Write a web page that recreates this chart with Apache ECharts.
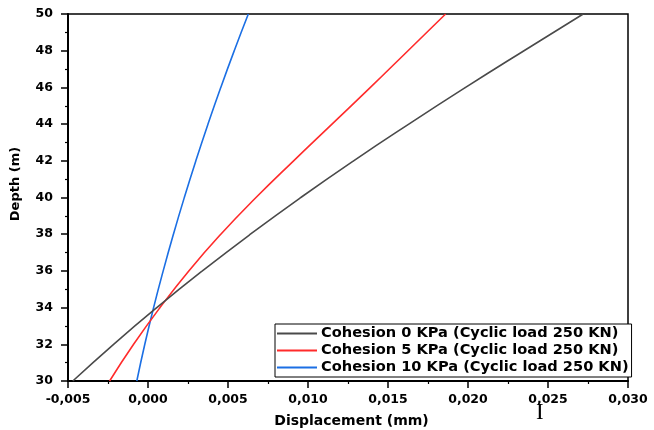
<!DOCTYPE html>
<html>
<head>
<meta charset="utf-8">
<script src="https://cdn.jsdelivr.net/npm/echarts@6/dist/echarts.min.js"></script>
<style>
  html, body { margin: 0; padding: 0; background: #fff; }
  #chart { width: 654px; height: 430px; }
</style>
</head>
<body>
<div id="chart"></div>
<script>
// Depth (m) sampled along the pile
const depths = [30, 32, 34, 36, 38, 40, 42, 44, 46, 48, 50];
// Displacement (mm) for each cohesion case, cyclic load 250 KN
const dispC0  = [-0.00470, -0.00215, 0.00055, 0.00340, 0.00640, 0.00955, 0.01285, 0.01630, 0.01985, 0.02350, 0.02720];
const dispC5  = [-0.00240, -0.00090, 0.00075, 0.00255, 0.00455, 0.00675, 0.00910, 0.01150, 0.01390, 0.01625, 0.01860];
const dispC10 = [-0.00070, -0.00020, 0.00035, 0.00095, 0.00159, 0.00227, 0.00299, 0.00375, 0.00455, 0.00539, 0.00627];
const seriesNames = [
  'Cohesion 0 KPa (Cyclic load 250 KN)',
  'Cohesion 5 KPa (Cyclic load 250 KN)',
  'Cohesion 10 KPa (Cyclic load 250 KN)'
];
const seriesColors = ['#4a4a4a', '#ff2b2b', '#1b6fe4'];
const xTickMin = -0.005, xTickMax = 0.030, xTickStep = 0.005;
const yTickMin = 30, yTickMax = 50, yTickStep = 2;

const FONT = '"DejaVu Sans", Verdana, sans-serif';
const chart = echarts.init(document.getElementById('chart'), null, { renderer: 'canvas' });

function pairs(xs) { return xs.map((x, i) => [x, depths[i]]); }

const allSeries = [dispC0, dispC5, dispC10].map((arr, i) => ({
  name: seriesNames[i],
  type: 'line',
  data: pairs(arr),
  smooth: 0.5,
  symbol: 'none',
  lineStyle: { color: seriesColors[i], width: 1.6 },
  itemStyle: { color: seriesColors[i] },
  z: 3 - i
}));

chart.setOption({
  animation: false,
  backgroundColor: '#fff',
  grid: {
    left: 68, right: 26, top: 14, bottom: 49,
    outerBoundsMode: 'none',
    show: true, borderColor: '#000', borderWidth: 1.5, backgroundColor: 'transparent'
  },
  xAxis: {
    type: 'value',
    min: xTickMin, max: xTickMax, interval: xTickStep,
    name: 'Displacement (mm)',
    nameLocation: 'middle', nameGap: 33,
    nameTextStyle: { fontFamily: FONT, fontWeight: 'bold', fontSize: 14, color: '#000', padding: [0, 0, 0, 7] },
    axisLine: { show: true, onZero: false, lineStyle: { color: '#000', width: 2 } },
    axisTick: { show: true, inside: false, length: 7, lineStyle: { color: '#000', width: 1.5 } },
    minorTick: { show: true, splitNumber: 2, length: 3, lineStyle: { color: '#000', width: 1.2 } },
    splitLine: { show: false },
    axisLabel: {
      fontFamily: FONT, fontWeight: 'bold', fontSize: 12.5, color: '#000', margin: 12,
      formatter: v => v.toFixed(3).replace('.', ',')
    }
  },
  yAxis: {
    type: 'value',
    min: yTickMin, max: yTickMax, interval: yTickStep,
    axisLine: { show: true, onZero: false, lineStyle: { color: '#000', width: 2 } },
    axisTick: { show: true, inside: false, length: 7, lineStyle: { color: '#000', width: 1.5 } },
    minorTick: { show: true, splitNumber: 2, length: 3, lineStyle: { color: '#000', width: 1.2 } },
    splitLine: { show: false },
    axisLabel: {
      fontFamily: FONT, fontWeight: 'bold', fontSize: 12.5, color: '#000', margin: 15,
      formatter: v => String(v)
    }
  },
  legend: {
    orient: 'vertical',
    left: 275, top: 324,
    backgroundColor: '#fff',
    borderColor: '#000', borderWidth: 1, borderRadius: 0,
    padding: [2, 3, 2, 2],
    itemGap: 2,
    itemWidth: 40, itemHeight: 2,
    icon: 'rect',
    textStyle: { fontFamily: FONT, fontWeight: 'bold', fontSize: 14.6, color: '#000', padding: [0, 0, 0, -1] },
    data: seriesNames.map((n, i) => ({ name: n, itemStyle: { color: seriesColors[i] } }))
  },
  graphic: [
    {
      // vertical axis title
      type: 'text', x: 16, y: 184, rotation: Math.PI / 2,
      style: {
        text: 'Depth (m)', font: 'bold 13px ' + FONT, fill: '#000',
        align: 'center', verticalAlign: 'middle'
      }
    },
    {
      type: 'text', left: 536, top: 401,
      style: { text: 'I', font: '23px "Liberation Serif", serif', fill: '#000' }
    }
  ],
  series: allSeries
});
</script>
</body>
</html>
